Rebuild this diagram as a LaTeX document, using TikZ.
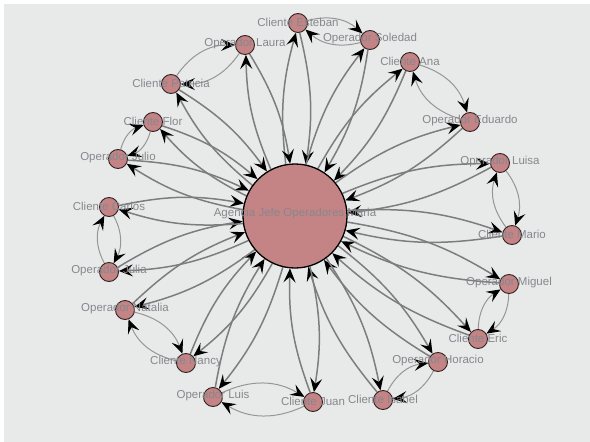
\documentclass[tikz,border=0pt]{standalone}
\usepackage{fontspec}
\setmainfont{Liberation Sans}
\usetikzlibrary{arrows.meta}
\definecolor{bgc}{RGB}{232,234,234}
\definecolor{nodefill}{RGB}{196,132,134}
\definecolor{nodeline}{RGB}{50,35,35}
\definecolor{cedgec}{RGB}{125,125,125}
\definecolor{pedgec}{RGB}{150,150,150}
\definecolor{labc}{RGB}{135,135,140}
\pgfdeclarelayer{bg}
\pgfdeclarelayer{edges}
\pgfdeclarelayer{fg}
\pgfsetlayers{bg,edges,main,fg}
\tikzset{
  small/.style={circle,fill=nodefill,draw=nodeline,line width=0.9pt,minimum size=19pt,inner sep=0pt},
  big/.style={circle,fill=nodefill,draw=black,line width=1.3pt,minimum size=104pt,inner sep=0pt},
  lab/.style={text=labc,font=\fontsize{11.5}{12}\selectfont,inner sep=0pt,anchor=center},
  tipc/.tip={Stealth[length=14pt 0,width=12pt 0,inset=5.5pt 0,black]},
  cedge/.style={draw=cedgec,line width=1.5pt,-tipc},
  pedge/.style={draw=pedgec,line width=1pt,-tipc}
}
\begin{document}
\begin{tikzpicture}[x=1pt,y=-1pt]
\useasboundingbox (0,0) rectangle (590,442);
\begin{pgfonlayer}{bg}
\fill[bgc] (4,4) rectangle (590,442);
\end{pgfonlayer}
\node[big] (M) at (295,216) {};
\foreach \n/\x/\y in {ce/298/23, os/370/40, ca/410/62, oe/470/122, ol/500/163, cm/512/235, om/509/284, cer/478/339, oh/438/362, ci/383/400, cj/313/402, olu/213/397, cn/186/363, ona/125/310, oju/109/272, cc/109/207, ojl/118/159, cf/153/122, cp/171/84, ola/245/45}
  \node[small] (\n) at (\x,\y) {};
\begin{pgfonlayer}{edges}
\foreach \n in {ce,os,ca,oe,ol,cm,om,cer,oh,ci,cj,olu,cn,ona,oju,cc,ojl,cf,cp,ola}{
  \draw[cedge] (M) to[bend left=11] (\n);
  \draw[cedge] (\n) to[bend left=11] (M);
}
\foreach \a/\b in {ce/os, ca/oe, ol/cm, om/cer, oh/ci, cj/olu, cn/ona, oju/cc, ojl/cf, cp/ola}{
  \draw[pedge] (\a) to[bend left=28] (\b);
  \draw[pedge] (\b) to[bend left=28] (\a);
}
\end{pgfonlayer}
\begin{pgfonlayer}{fg}
\node[lab] (M-l) at (295,214) {Agencia Jefe Operadores Maria};
\foreach \n/\t in {ce/Cliente Esteban, os/Operador Soledad, ca/Cliente Ana, oe/Operador Eduardo, ol/Operador Luisa, cm/Cliente Mario, om/Operador Miguel, cer/Cliente Eric, oh/Operador Horacio, ci/Cliente Isabel, cj/Cliente Juan, olu/Operador Luis, cn/Cliente Nancy, ona/Operador Natalia, oju/Operador Julia, cc/Cliente Carlos, ojl/Operador Julio, cf/Cliente Flor, cp/Cliente Patricia, ola/Operador Laura}
  \node[lab] (\n-l) at ([yshift=1pt]\n.center) {\t};
\end{pgfonlayer}
\end{tikzpicture}
\end{document}
